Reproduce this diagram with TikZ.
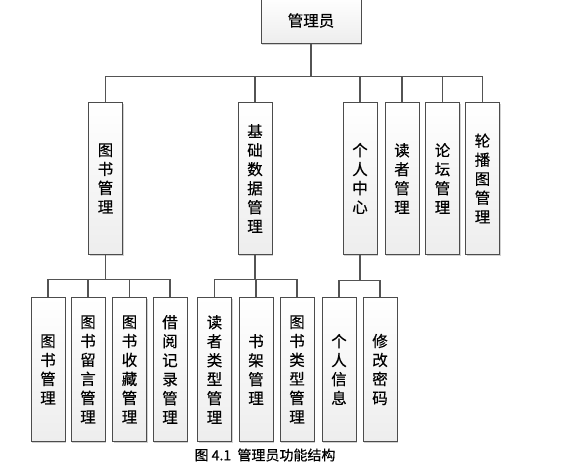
\documentclass[tikz,border=0pt]{standalone}
\usepackage{fontspec}
\newfontfamily\cjk[FakeBold=0.4]{Noto Sans CJK SC}
\usetikzlibrary{shadows}

\begin{document}
\begin{tikzpicture}[x=1pt,y=-1pt,
  font=\cjk\fontsize{15.5}{19}\selectfont,
  box/.style={draw=gray!60!black,line width=0.9pt,top color=white,bottom color=gray!14,
    drop shadow={shadow xshift=1.4pt,shadow yshift=-1.4pt,fill=gray!45,opacity=0.8},
    minimum width=34pt,inner sep=0pt,anchor=north,align=center},
  line/.style={draw=gray!65!black,line width=1.1pt},
  every node/.style={align=center}]

\useasboundingbox (0,0) rectangle (565,467);

%root
    \node[box,minimum width=100pt,minimum height=46pt] (root) at (311,-3) {管理员};

%first level
  \foreach \name/\x/\txt in {m1/105.5/{图\\书\\管\\理}, m2/255/{基\\础\\数\\据\\管\\理},
      m3/360/{个\\人\\中\\心}, m4/402/{读\\者\\管\\理}, m5/442.5/{论\\坛\\管\\理},
      m6/482.5/{轮\\播\\图\\管\\理}}
    \node[box,minimum height=152pt] (\name) at (\x,102) {\txt};

%second level
  \foreach \name/\x/\txt in {a1/48/{图\\书\\管\\理}, a2/88/{图\\书\\留\\言\\管\\理},
      a3/129.5/{图\\书\\收\\藏\\管\\理}, a4/170/{借\\阅\\记\\录\\管\\理},
      b1/214.5/{读\\者\\类\\型\\管\\理}, b2/256/{书\\架\\管\\理},
      b3/297/{图\\书\\类\\型\\管\\理}, c1/339/{个\\人\\信\\息}, c2/380/{修\\改\\密\\码}}
    \node[box,minimum height=144pt] (\name) at (\x,297) {\txt};

%draw connectors
    \draw[line] (root.south) -- ++(0,33) coordinate (bus0);
  \foreach \n in {m1,m2,m3,m4,m5,m6}
    \draw[line] (bus0) -| (\n.north);
    \draw[line] (m1.south) -- ++(0,25) coordinate (bus1);
  \foreach \n in {a1,a2,a3,a4}
    \draw[line] (bus1) -| (\n.north);
    \draw[line] (m2.south) -- ++(0,25) coordinate (bus2);
  \foreach \n in {b1,b2,b3}
    \draw[line] (bus2) -| (\n.north);
    \draw[line] (m3.south) -- ++(0,26) coordinate (bus3);
  \foreach \n in {c1,c2}
    \draw[line] (bus3) -| (\n.north);

%caption
    \node[font=\cjk\fontsize{14}{16}\selectfont] (cap) at (265,455) {图 4.1\ \ 管理员功能结构};

\end{tikzpicture}
\end{document}
